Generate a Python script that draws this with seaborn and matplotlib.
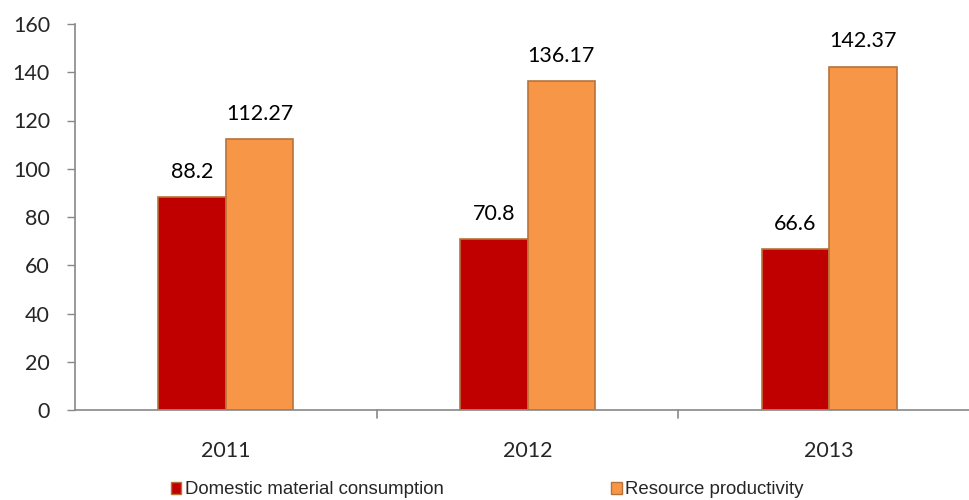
import matplotlib
matplotlib.use("Agg")
import matplotlib.pyplot as plt
import matplotlib.transforms as mtrans
import seaborn as sns
import pandas as pd
from matplotlib.patches import Patch

years = ["2011", "2012", "2013"]
series_names = ["Domestic material consumption", "Resource productivity"]
dmc = [88.2, 70.8, 66.6]
rp = [112.27, 136.17, 142.37]
dmc_labels = ["88.2", "70.8", "66.6"]
rp_labels = ["112.27", "136.17", "142.37"]
yticks = [0, 20, 40, 60, 80, 100, 120, 140, 160]

colors = ["#C00000", "#F79646"]
edge = "#B8733A"

df = pd.DataFrame({
    "year": years * 2,
    "series": [series_names[0]] * 3 + [series_names[1]] * 3,
    "value": dmc + rp,
})

sns.set_style("white")
plt.rcParams["font.family"] = ["Lato", "DejaVu Sans"]

fig = plt.figure(figsize=(9.69, 5.0), dpi=100)
ax = fig.add_axes([75 / 969, 90 / 500, 905 / 969, 386 / 500])

sns.barplot(data=df, x="year", y="value", hue="series", order=years,
            hue_order=series_names, palette=colors, width=0.448, ax=ax,
            edgecolor=edge, linewidth=1.2, legend=False, saturation=1)

for cont, labs in zip(ax.containers, [dmc_labels, rp_labels]):
    ax.bar_label(cont, labels=labs, padding=11, fontsize=15.5, color="#000000")

ax.set_ylim(0, 160)
ax.set_yticks(yticks)
ax.set_yticklabels([str(t) for t in yticks], fontsize=15.5)
ax.set_xlim(-0.5, 2.5)
ax.set_xticks([0, 1, 2])
ax.set_xticklabels(years, fontsize=15.5)
ax.tick_params(axis="x", length=0, pad=22)
ax.tick_params(axis="y", length=6, width=1, color="#888888", direction="out", pad=12, left=True)
ax.set_xlabel("")
ax.set_ylabel("")
for s in ["top", "right"]:
    ax.spines[s].set_visible(False)
for s in ["left", "bottom"]:
    ax.spines[s].set_color("#888888")
    ax.spines[s].set_linewidth(1.2)

trans = mtrans.blended_transform_factory(ax.transData, ax.transAxes)
for x in [0.5, 1.5]:
    ax.plot([x, x], [0, -0.02], color="#888888", lw=1.2, clip_on=False, transform=trans)

handles = [Patch(facecolor=colors[i], edgecolor=edge, label=series_names[i]) for i in range(2)]
fig.legend(handles=handles, loc="center", bbox_to_anchor=(0.503, 0.02), ncol=2,
           frameon=False, prop={"family": "Liberation Sans", "size": 13.4},
           handlelength=0.55, handleheight=0.55, handletextpad=0.2, columnspacing=9.0)

fig.savefig("out.png", dpi=100)
